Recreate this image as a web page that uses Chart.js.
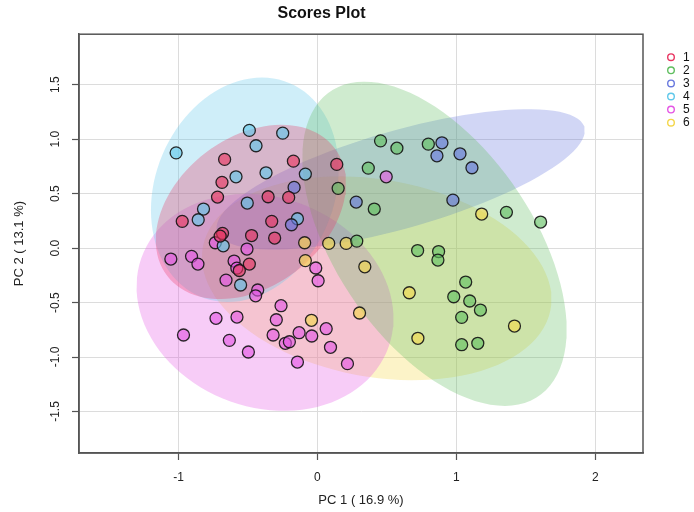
<!DOCTYPE html>
<html>
<head>
<meta charset="utf-8">
<script src="https://cdn.jsdelivr.net/npm/chart.js@4.4.1/dist/chart.umd.min.js"></script>
<style>
  html, body { margin: 0; padding: 0; background: #fff; }
  #wrap { width: 694px; height: 512px; }
</style>
</head>
<body>
<div id="wrap"><canvas id="scores"></canvas></div>
<script>
// group labels and colours
const groups = ['1', '2', '3', '4', '5', '6'];
const groupColors = [[232, 52, 96], [96, 190, 96], [104, 120, 222], [96, 200, 234], [228, 86, 228], [244, 214, 72]];

// PC1 / PC2 scores, one pair of arrays per group
const pc1_g1 = [-0.668, -0.173, 0.139, -0.687, -0.719, -0.355, -0.207, -0.973, -0.329, -0.683, -0.700, -0.474, -0.308, -0.490, -0.562];
const pc2_g1 = [0.814, 0.798, 0.768, 0.603, 0.468, 0.471, 0.465, 0.245, 0.245, 0.135, 0.110, 0.115, 0.092, -0.147, -0.206];

const pc1_g2 = [0.454, 0.572, 0.798, 0.366, 0.149, 0.409, 1.360, 1.606, 0.283, 0.721, 0.872, 0.867, 1.067, 0.981, 1.096, 1.173, 1.038, 1.038, 1.154];
const pc2_g2 = [0.984, 0.917, 0.954, 0.734, 0.548, 0.358, 0.328, 0.239, 0.064, -0.023, -0.032, -0.110, -0.312, -0.447, -0.486, -0.569, -0.636, -0.887, -0.874];

const pc1_g3 = [-0.168, -0.187, 0.279, 0.896, 0.860, 1.026, 1.112, 0.975];
const pc2_g3 = [0.557, 0.214, 0.422, 0.966, 0.847, 0.865, 0.737, 0.440];

const pc1_g4 = [-1.017, -0.490, -0.250, -0.442, -0.586, -0.370, -0.087, -0.505, -0.820, -0.858, -0.144, -0.678, -0.553];
const pc2_g4 = [0.874, 1.080, 1.055, 0.939, 0.654, 0.691, 0.679, 0.413, 0.358, 0.260, 0.269, 0.021, -0.339];

const pc1_g5 = [0.495, -0.735, -0.507, -1.055, -0.906, -0.860, -0.600, -0.580, -0.012, 0.005, -0.658, -0.430, -0.445, -0.262, -0.730,
  -0.579, -0.296, -0.964, -0.634, -0.319, -0.231, -0.202, -0.132, -0.041, 0.063, 0.094, -0.497, -0.144, 0.216];
const pc2_g5 = [0.654, 0.049, -0.009, -0.101, -0.076, -0.147, -0.119, -0.184, -0.183, -0.300, -0.294, -0.385, -0.438, -0.529, -0.645,
  -0.633, -0.658, -0.798, -0.847, -0.798, -0.874, -0.860, -0.777, -0.807, -0.740, -0.911, -0.954, -1.046, -1.061];

const pc1_g6 = [-0.092, 0.081, 0.207, -0.087, 0.341, 1.182, 0.661, 0.303, -0.043, 1.418, 0.723];
const pc2_g6 = [0.049, 0.043, 0.043, -0.115, -0.172, 0.312, -0.410, -0.596, -0.663, -0.716, -0.828];

const pc1 = [pc1_g1, pc1_g2, pc1_g3, pc1_g4, pc1_g5, pc1_g6];
const pc2 = [pc2_g1, pc2_g2, pc2_g3, pc2_g4, pc2_g5, pc2_g6];

// axis ticks
const xTicks = [-1, 0, 1, 2];
const yTicks = [-1.5, -1.0, -0.5, 0.0, 0.5, 1.0, 1.5];

const FONT = '"Liberation Sans", Arial, Helvetica, sans-serif';

function rgba(c, a) {
  return 'rgba(' + c[0] + ',' + c[1] + ',' + c[2] + ',' + a + ')';
}

// 95% confidence ellipse of a group (same as ellipse::ellipse(cov, centre, level = 0.95))
function ellipse95(xs, ys) {
  const n = xs.length;
  const mx = xs.reduce((a, b) => a + b, 0) / n;
  const my = ys.reduce((a, b) => a + b, 0) / n;
  let sxx = 0, syy = 0, sxy = 0;
  for (let i = 0; i < n; i++) {
    sxx += (xs[i] - mx) * (xs[i] - mx);
    syy += (ys[i] - my) * (ys[i] - my);
    sxy += (xs[i] - mx) * (ys[i] - my);
  }
  sxx /= n - 1; syy /= n - 1; sxy /= n - 1;
  const t = Math.sqrt(5.991465);
  const sx = Math.sqrt(sxx), sy = Math.sqrt(syy);
  const d = Math.acos(sxy / (sx * sy));
  const pts = [];
  for (let k = 0; k <= 100; k++) {
    const a = 2 * Math.PI * k / 100;
    pts.push({x: mx + t * sx * Math.cos(a + d / 2), y: my + t * sy * Math.cos(a - d / 2)});
  }
  return pts;
}

const datasets = [];
groups.forEach((g, i) => {
  datasets.push({
    type: 'line',
    label: 'ellipse ' + g,
    data: ellipse95(pc1[i], pc2[i]),
    showLine: true,
    fill: 'shape',
    backgroundColor: rgba(groupColors[i], 0.3),
    borderWidth: 0,
    borderColor: 'rgba(0,0,0,0)',
    pointRadius: 0,
    tension: 0,
    order: 2
  });
});
groups.forEach((g, i) => {
  datasets.push({
    type: 'scatter',
    label: g,
    data: pc1[i].map((x, k) => ({x: x, y: pc2[i][k]})),
    backgroundColor: rgba(groupColors[i], 0.62),
    borderColor: 'rgba(20,20,20,0.9)',
    borderWidth: 1.3,
    pointRadius: 6,
    pointHoverRadius: 6,
    order: 1
  });
});

// frame round the plot region, and the group key on the right
const framePlugin = {
  id: 'frame',
  afterDraw(chart) {
    const {ctx, chartArea: a} = chart;
    ctx.save();
    ctx.strokeStyle = '#555';
    ctx.lineWidth = 1.5;
    ctx.strokeRect(a.left, a.top, a.right - a.left, a.bottom - a.top);

    ctx.font = '12px ' + FONT;
    ctx.textBaseline = 'middle';
    ctx.textAlign = 'left';
    groups.forEach((g, i) => {
      const y = a.top + 23 + i * 13.1;
      ctx.beginPath();
      ctx.arc(a.right + 28, y, 3.3, 0, 2 * Math.PI);
      ctx.strokeStyle = rgba(groupColors[i], 1);
      ctx.lineWidth = 1.4;
      ctx.stroke();
      ctx.fillStyle = '#111';
      ctx.fillText(g, a.right + 40, y);
    });
    ctx.restore();
  }
};

new Chart(document.getElementById('scores'), {
  type: 'scatter',
  data: {datasets: datasets},
  options: {
    responsive: true,
    maintainAspectRatio: false,
    animation: false,
    layout: {padding: {left: 0, right: 51, top: 0, bottom: 0}},
    plugins: {
      legend: {display: false},
      tooltip: {enabled: false},
      title: {
        display: true,
        text: 'Scores Plot',
        color: '#111',
        font: {family: FONT, size: 16, weight: 'bold'},
        padding: {top: 4, bottom: 11}
      }
    },
    scales: {
      x: {
        type: 'linear',
        min: -1.716,
        max: 2.343,
        afterBuildTicks: (s) => { s.ticks = xTicks.map(v => ({value: v})); },
        afterFit: (s) => { s.height = 59; },
        ticks: {
          color: '#222',
          padding: 10,
          maxRotation: 0,
          font: {family: FONT, size: 12},
          callback: (v) => String(v)
        },
        grid: {color: '#dcdcdc', lineWidth: 1, tickColor: '#555', tickLength: 7, tickWidth: 1.2},
        border: {display: true, color: '#555', width: 1.5},
        title: {
          display: true,
          text: 'PC 1 ( 16.9 %)',
          color: '#222',
          font: {family: FONT, size: 13},
          padding: {top: 0, bottom: 4}
        }
      },
      y: {
        type: 'linear',
        min: -1.881,
        max: 1.963,
        afterBuildTicks: (s) => { s.ticks = yTicks.map(v => ({value: v})); },
        afterFit: (s) => { s.width = 79; },
        ticks: {
          color: '#222',
          padding: 6,
          minRotation: 90,
          maxRotation: 90,
          crossAlign: 'center',
          font: {family: FONT, size: 12},
          callback: (v) => v.toFixed(1)
        },
        grid: {color: '#dcdcdc', lineWidth: 1, tickColor: '#555', tickLength: 7, tickWidth: 1.2},
        border: {display: true, color: '#555', width: 1.5},
        title: {
          display: true,
          text: 'PC 2 ( 13.1 %)',
          color: '#222',
          font: {family: FONT, size: 13},
          padding: {top: 12, bottom: 0}
        }
      }
    }
  },
  plugins: [framePlugin]
});
</script>
</body>
</html>
